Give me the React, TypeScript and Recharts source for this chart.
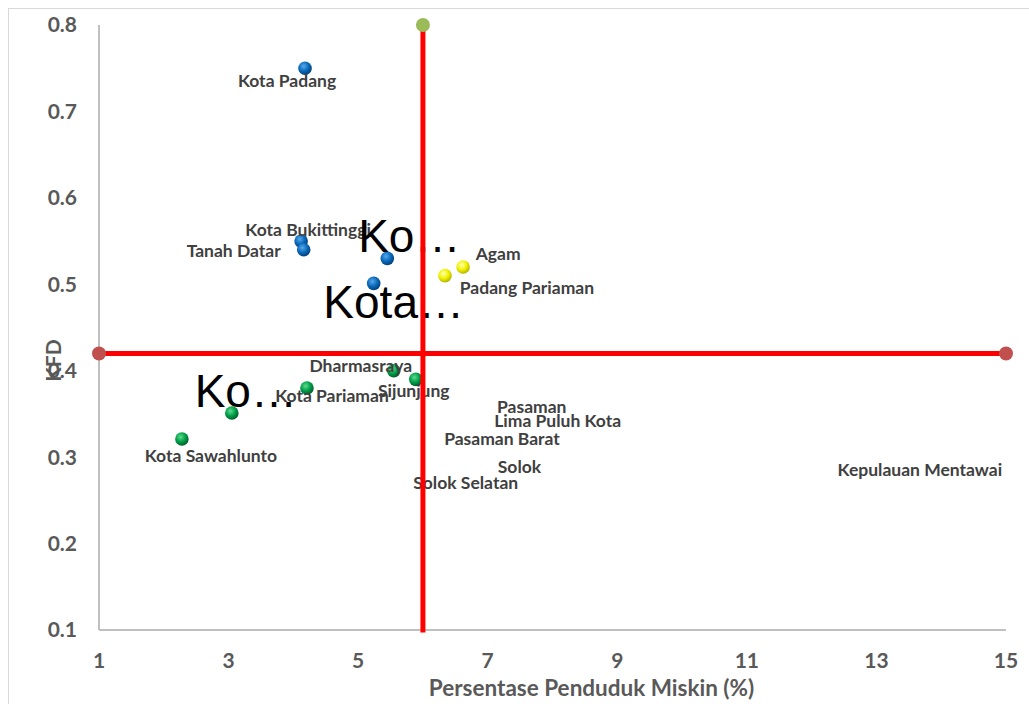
import { Label, Scatter, ScatterChart, XAxis, YAxis } from "recharts";

// blue quadrant (top-left)
const blueNames = ["Kota Padang", "Kota Bukittinggi", "Tanah Datar", "Ko…", "Kota…"];
const blueX = [4.18, 4.12, 4.16, 5.45, 5.24];
const blueY = [0.75, 0.55, 0.54, 0.53, 0.501];

// yellow quadrant (top-right)
const yellowNames = ["Padang Pariaman", "Agam"];
const yellowX = [6.34, 6.62];
const yellowY = [0.51, 0.52];

// green quadrant (bottom-left)
const greenNames = ["Kota Sawahlunto", "Ko…", "Kota Pariaman", "Dharmasraya", "Sijunjung"];
const greenX = [2.28, 3.05, 4.21, 5.55, 5.89];
const greenY = [0.321, 0.351, 0.38, 0.4, 0.39];

// bottom-right quadrant, markers not shown
const redNames = ["Pasaman", "Lima Puluh Kota", "Pasaman Barat", "Solok", "Solok Selatan", "Kepulauan Mentawai"];
const redX = [7.68, 8.08, 7.22, 7.49, 6.66, 13.67];
const redY = [0.358, 0.342, 0.321, 0.289, 0.27, 0.285];

// quadrant dividers
const meanX = 6;
const meanY = 0.42;
const xRange = [1, 15];
const yRange = [0.1, 0.8];

const xTicks = [1, 3, 5, 7, 9, 11, 13, 15];
const yTicks = [0.1, 0.2, 0.3, 0.4, 0.5, 0.6, 0.7, 0.8];

// label offsets from marker centre: [dx to text centre, dy to baseline]
const blueLabelPos = [[-18, 19], [7, -5], [-70, 7], [22, -6], [20, 35]];
const yellowLabelPos = [[82, 18], [35, -7]];
const greenLabelPos = [[29, 23], [14, -6], [25, 14], [-33, 1], [-2, 18]];

const rows = (names: string[], xs: number[], ys: number[]) =>
  names.map((name, i) => ({ name, x: xs[i], y: ys[i], i }));

const blueData = rows(blueNames, blueX, blueY);
const yellowData = rows(yellowNames, yellowX, yellowY);
const greenData = rows(greenNames, greenX, greenY);
const redData = rows(redNames, redX, redY);
const hLine = xRange.map((x) => ({ x, y: meanY }));
const vLine = yRange.map((y) => ({ x: meanX, y }));
const vTop = [{ x: meanX, y: yRange[1] }];

const FONT = "Lato, 'Open Sans', sans-serif";
const W = 1020;
const H = 695;

function PointLabel({ x, y, text }: { x: number; y: number; text: string }) {
  const big = text.endsWith("…");
  return (
    <text
      x={x}
      y={y}
      textAnchor="middle"
      fontFamily={big ? "'Liberation Sans', Arial, sans-serif" : FONT}
      fontWeight={big ? 400 : 700}
      fontSize={big ? 46 : 17.5}
      fill={big ? "#000000" : "#404040"}
    >
      {text}
    </text>
  );
}

const sphere = (grad: string, pos: number[][]) => (p: any) => {
  const [dx, dy] = pos[p.payload.i];
  return (
    <g>
      <circle cx={p.cx} cy={p.cy} r={6.8} fill={`url(#${grad})`} />
      <PointLabel x={p.cx + dx} y={p.cy + dy} text={p.payload.name} />
    </g>
  );
};

const labelOnly = (p: any) => <PointLabel x={p.cx} y={p.cy + 6} text={p.payload.name} />;
const noMarker = () => <g />;
const dot = (fill: string) => (p: any) => <circle cx={p.cx} cy={p.cy} r={7} fill={fill} />;

const tickStyle = { fontFamily: FONT, fontWeight: 700, fontSize: 21, fill: "#595959" };

export default function App() {
  return (
    <div style={{ position: "fixed", left: 0, top: 0, width: 1029, height: 704, overflow: "hidden", background: "#fff" }}>
      <div
        style={{
          position: "absolute",
          left: 8,
          top: 8,
          width: W + 1,
          height: H + 1,
          borderTop: "1px solid #d9d9d9",
          borderLeft: "1px solid #d9d9d9",
          boxSizing: "border-box",
        }}
      >
        <ScatterChart width={W} height={H} margin={{ top: 16, right: 23, bottom: 0, left: 0 }}>
          <defs>
            <radialGradient id="g-blue" cx="40%" cy="35%" r="65%">
              <stop offset="0%" stopColor="#5aa9e8" />
              <stop offset="55%" stopColor="#0a6bbd" />
              <stop offset="100%" stopColor="#03407a" />
            </radialGradient>
            <radialGradient id="g-green" cx="40%" cy="35%" r="65%">
              <stop offset="0%" stopColor="#5fdc8c" />
              <stop offset="55%" stopColor="#00a04a" />
              <stop offset="100%" stopColor="#005f2c" />
            </radialGradient>
            <radialGradient id="g-yellow" cx="40%" cy="35%" r="65%">
              <stop offset="0%" stopColor="#ffffb8" />
              <stop offset="55%" stopColor="#f2f200" />
              <stop offset="100%" stopColor="#b5b500" />
            </radialGradient>
          </defs>
          <XAxis
            type="number"
            dataKey="x"
            domain={xRange}
            ticks={xTicks}
            interval={0}
            height={74}
            tickSize={0}
            tickMargin={23}
            tickLine={false}
            axisLine={{ stroke: "#c0c0c0", strokeWidth: 2 }}
            tick={tickStyle}
            label={
              <Label
                content={(p: any) => (
                  <text
                    x={p.viewBox.x + p.viewBox.width / 2 + 39}
                    y={H - 8}
                    textAnchor="middle"
                    fontFamily={FONT}
                    fontWeight={700}
                    fontSize={22.5}
                    fill="#595959"
                  >
                    Persentase Penduduk Miskin (%)
                  </text>
                )}
              />
            }
          />
          <YAxis
            type="number"
            dataKey="y"
            domain={yRange}
            ticks={yTicks}
            interval={0}
            width={90}
            tickSize={0}
            tickMargin={22}
            tickLine={false}
            axisLine={{ stroke: "#c0c0c0", strokeWidth: 2 }}
            tick={tickStyle}
            tickFormatter={(v: number) => v.toFixed(1)}
            label={
              <Label
                content={(p: any) => {
                  const cx = 43;
                  const cy = p.viewBox.y + p.viewBox.height / 2 + 33;
                  return (
                    <text
                      x={cx}
                      y={cy}
                      transform={`rotate(-90, ${cx}, ${cy})`}
                      textAnchor="middle"
                      dominantBaseline="central"
                      fontFamily={FONT}
                      fontWeight={700}
                      fontSize={21}
                      fill="#595959"
                    >
                      KFD
                    </text>
                  );
                }}
              />
            }
          />
          <Scatter data={redData} shape={labelOnly} isAnimationActive={false} />
          <Scatter data={blueData} shape={sphere("g-blue", blueLabelPos)} isAnimationActive={false} />
          <Scatter data={yellowData} shape={sphere("g-yellow", yellowLabelPos)} isAnimationActive={false} />
          <Scatter data={greenData} shape={sphere("g-green", greenLabelPos)} isAnimationActive={false} />
          <Scatter
            data={hLine}
            line={{ stroke: "#FF0000", strokeWidth: 5, strokeLinecap: "square" }}
            lineType="joint"
            shape={dot("#C0504D")}
            isAnimationActive={false}
          />
          <Scatter
            data={vLine}
            line={{ stroke: "#FF0000", strokeWidth: 5, strokeLinecap: "square" }}
            lineType="joint"
            shape={noMarker}
            isAnimationActive={false}
          />
          <Scatter data={vTop} shape={dot("#9BBB59")} isAnimationActive={false} />
        </ScatterChart>
      </div>
    </div>
  );
}
